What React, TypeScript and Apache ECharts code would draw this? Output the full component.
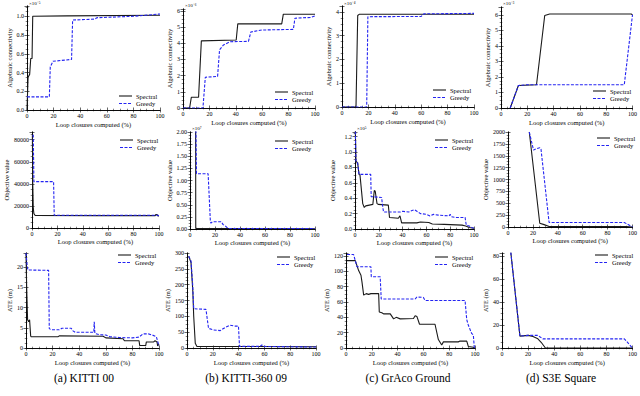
import React, { useEffect, useRef } from 'react';
import * as echarts from 'echarts';

// ---------- data (x = loop closures computed %, y = value) ----------
const xTickStep = 20;
const seriesNames = ['Spectral', 'Greedy'];
const captions = ['(a) KITTI 00', '(b) KITTI-360 09', '(c) GrAco Ground', '(d) S3E Square'];
const multipliers = ['×10⁻⁵', '×10⁻⁶', '×10⁻⁴', '×10⁻³', '', '×10⁷', '×10⁵', ''];

// Row 1: algebraic connectivity (in units of the multiplier)
const kittiConnSpectral = [[0, 0], [0.8, 0.35], [2, 0.38], [2.8, 0.55], [3.8, 0.55], [4.3, 1.0], [30, 1.005], [100, 1.012]];
const kittiConnGreedy = [[0, 0.14], [16.8, 0.14], [17.5, 0.46], [19.5, 0.52], [33.5, 0.54], [34.3, 0.96], [51, 0.97], [52.5, 0.985], [80, 1.0], [100, 1.025]];
const k360ConnSpectral = [[0, 0], [5, 0], [6.3, 0.66], [11.8, 0.66], [13.9, 4.15], [40.3, 4.2], [41.5, 5.2], [74.8, 5.2], [76, 5.8], [100, 5.8]];
const k360ConnGreedy = [[0, 0], [15.1, 0], [16.9, 1.9], [26.2, 1.95], [27.7, 3.6], [30.7, 3.9], [35.8, 4.1], [49.6, 4.12], [51.4, 4.7], [59.7, 4.82], [83.6, 4.86], [84.8, 5.55], [97, 5.6], [100, 5.7]];
const gracoConnSpectral = [[0, 0], [10.6, 0], [11.9, 3.85], [13, 3.9], [100, 3.9]];
const gracoConnGreedy = [[0, 0], [18.7, 0], [19.6, 3.8], [60, 3.81], [62, 3.92], [100, 3.94]];
const s3eConnSpectral = [[7, 0], [13.25, 1.45], [27, 1.5], [33.25, 5.95], [37, 6.05], [99, 6.05], [100, 6.0]];
const s3eConnGreedy = [[7, 0], [13.25, 1.45], [20, 1.5], [93.75, 1.5], [100, 6.0]];

// Row 2: objective value
const kittiObjSpectral = [[0.3, 84000], [0.6, 40000], [1, 18000], [1.5, 13000], [2.5, 11300], [50, 11200], [97, 11200], [97.5, 12200], [98.5, 12200], [99, 11000], [100, 11000]];
const kittiObjGreedy = [[0.3, 84000], [1, 84000], [1.5, 42000], [17, 42000], [17.5, 11500], [99.5, 11500], [100, 10000]];
const k360ObjSpectral = [[4.5, 2.5], [4.6, 0.01], [100, 0.005]];
const k360ObjGreedy = [[4.5, 2.5], [5.2, 1.14], [14.5, 1.14], [16.3, 0.15], [16.8, 0.12], [18, 0.15], [25, 0.15], [26.5, 0.09], [28, 0.07], [30, 0.02], [31, 0.01], [100, 0.01]];
const gracoObjSpectral = [[0, 1.5], [0.8, 0.88], [2.2, 0.86], [3.4, 0.71], [4.2, 0.7], [6.5, 0.33], [7.8, 0.28], [9, 0.3], [15, 0.32], [16.2, 0.5], [17, 0.49], [18.5, 0.33], [19.5, 0.32], [28, 0.31], [29, 0.15], [36.4, 0.14], [37.8, 0.17], [39.2, 0.08], [52, 0.08], [55, 0.09], [62, 0.085], [65, 0.065], [75, 0.06], [90, 0.05], [93, 0.04], [96, 0.02], [100, 0.01]];
const gracoObjGreedy = [[0, 1.5], [0.8, 0.88], [2.2, 0.86], [3.4, 0.71], [13.2, 0.71], [13.6, 0.42], [22.4, 0.41], [23, 0.32], [24, 0.22], [38, 0.22], [40, 0.23], [45, 0.22], [48, 0.24], [50, 0.25], [52, 0.23], [55, 0.2], [60, 0.19], [63, 0.17], [66, 0.19], [70, 0.18], [79, 0.17], [80, 0.19], [81, 0.16], [85, 0.15], [92.5, 0.15], [93.5, 0.05], [96, 0.04], [98, 0.02], [100, 0.01]];
const s3eObjSpectral = [[17.1, 2000], [25.5, 80], [29, 50], [33, 10], [95, 8], [100, 0]];
const s3eObjGreedy = [[17.1, 2000], [20.5, 1620], [23, 1650], [25.5, 1670], [26.5, 1640], [33, 95], [93.4, 95], [100, 0]];

// Row 3: ATE (m)
const kittiAteSpectral = [[0, 23.5], [0.5, 15], [1.2, 7], [2, 6.5], [2.7, 7], [3.5, 3], [3.8, 2.8], [24, 2.8], [25, 3.0], [58, 2.9], [60, 2.5], [73, 2.3], [74, 1.8], [85, 1.8], [85.5, 0.6], [90, 0.6], [90.5, 1.5], [96, 1.5], [97, 1.8], [98.5, 1.5], [99, 0.5], [100, 1.0]];
const kittiAteGreedy = [[0, 23.5], [1, 20], [1.5, 19.3], [17, 19.2], [17.5, 4.8], [19, 4.5], [25, 4.5], [27, 4.9], [34, 4.9], [35, 4.3], [37, 3.9], [51, 3.9], [51.3, 6.5], [51.8, 3.6], [55, 3.3], [60, 3.2], [63, 2.8], [70, 2.6], [80, 2.5], [85, 2.7], [88, 3.5], [92, 3.5], [95, 3.2], [98, 2.8], [100, 0.5]];
const k360AteSpectral = [[1.3, 290], [3.1, 270], [4.5, 180], [5.2, 100], [6.4, 15], [7.7, 5], [100, 4]];
const k360AteGreedy = [[1.3, 290], [3.1, 275], [4.4, 200], [5.2, 124], [14.7, 122], [16.7, 62], [20.6, 57], [25.8, 55], [29.6, 65], [33.5, 72], [37.4, 69], [39.9, 69], [40.7, 5], [56.7, 5], [58, 10], [59.5, 5], [100, 3]];
const gracoAteSpectral = [[0.8, 114], [7.2, 114], [9.8, 101], [11.6, 95], [12.4, 86], [13.7, 69], [15.7, 71], [17.5, 70], [19.3, 71], [25.3, 71], [25.8, 47], [27.8, 46], [29.1, 44.5], [34.3, 44.5], [36.9, 38], [38.9, 40], [42, 38], [52.3, 38.5], [53.6, 42], [55, 41], [57, 31], [69, 31], [71.6, 11], [74.2, 4], [75.5, 8], [87, 8], [88.4, 9], [93.6, 9], [94.8, 2], [98.7, 1], [100, 0]];
const gracoAteGreedy = [[0.8, 122], [5.9, 122], [8.5, 106], [19.3, 106], [19.6, 93], [26.5, 93], [27.3, 64], [53.6, 64], [55, 66.5], [60, 66], [61.3, 62], [92.3, 62], [93.6, 37], [94.8, 30], [97.4, 19], [98.7, 17], [99.5, 0]];
const s3eAteSpectral = [[6.75, 83.5], [13.75, 10.4], [20, 11], [23.75, 10], [27.5, 8], [30, 5], [33.25, 0], [100, 0]];
const s3eAteGreedy = [[6.75, 83.5], [13.75, 10.4], [20, 11], [27.5, 11], [31.25, 8], [93.75, 8], [100, 0]];

// y-axis tick setup per panel: [max, interval, decimals]
const yScales = [
  [1.11, 0.2, 1], [6.12, 1, 0], [4.25, 1, 0], [6.5, 1, 0],
  [87000, 20000, 0], [2.0, 0.25, 2], [1.26, 0.2, 1], [2000, 250, 0],
  [23.5, 5, 0], [300, 50, 0], [124, 20, 0], [83, 20, 0],
];
const yTitles = ['Algebraic connectivity', 'Objective value', 'ATE (m)'];

const panelData = [
  [kittiConnSpectral, kittiConnGreedy], [k360ConnSpectral, k360ConnGreedy], [gracoConnSpectral, gracoConnGreedy], [s3eConnSpectral, s3eConnGreedy],
  [kittiObjSpectral, kittiObjGreedy], [k360ObjSpectral, k360ObjGreedy], [gracoObjSpectral, gracoObjGreedy], [s3eObjSpectral, s3eObjGreedy],
  [kittiAteSpectral, kittiAteGreedy], [k360AteSpectral, k360AteGreedy], [gracoAteSpectral, gracoAteGreedy], [s3eAteSpectral, s3eAteGreedy],
];

// ---------- layout ----------
// [left, top, width, height, yNameGap, legendLeft, legendFirstRowCenterY]
const layout = [
  [27, 6, 133, 104, 13.5, 119, 96], [183, 9, 132, 99, 6.5, 275, 92], [342, 6, 132, 101, 6.5, 433, 90], [501, 7, 133, 101, 7.5, 593, 91],
  [32, 132, 127, 96, 17.5, 120, 140], [190, 132, 125, 97, 14.5, 275, 141], [355, 132, 119, 97, 19.5, 435, 140], [508, 132, 127, 95, 16.5, 597, 138],
  [26, 253, 133, 95, 11.5, 118, 255], [187, 253, 129, 95, 12.5, 277, 257], [346, 253, 129, 95, 12.5, 435, 257], [502, 253, 133, 95, 8.5, 595, 255],
];
const xNameGaps = [11, 10, 11];
const captionCenters = [84, 246, 408, 561];

const FONT = "'Liberation Serif', 'Times New Roman', serif";
const BLACK = '#1a1a1a';
const BLUE = '#2424f2';
const DASH = [3, 1.5];

function makeFormatter(interval: number, dec: number) {
  return (v: number) => {
    const r = v / interval;
    return Math.abs(r - Math.round(r)) < 1e-6 ? v.toFixed(dec) : '';
  };
}

function buildOption() {
  const grid: any[] = [];
  const xAxis: any[] = [];
  const yAxis: any[] = [];
  const series: any[] = [];
  const graphic: any[] = [];

  const tick = { show: true, inside: true, length: 2.5, lineStyle: { color: '#000', width: 0.6 } };
  const minor = { show: true, splitNumber: 4, length: 1.3, lineStyle: { color: '#000', width: 0.5 } };
  const line = { show: true, lineStyle: { color: '#000', width: 0.8 } };

  layout.forEach((L, i) => {
    const [left, top, width, height, yGap, lgLeft, lgY] = L;
    const row = Math.floor(i / 4);
    const [ymax, yint, ydec] = yScales[i];
    grid.push({ left, top, width, height, containLabel: false });
    const xBase = {
      gridIndex: i, type: 'value', min: 0, max: 100, interval: xTickStep,
      axisLine: line, axisTick: tick, minorTick: minor, splitLine: { show: false },
    };
    xAxis.push({
      ...xBase, position: 'bottom',
      axisLabel: { fontFamily: FONT, fontSize: 6, color: '#000', margin: 3 },
      name: 'Loop closures computed (%)', nameLocation: 'middle', nameGap: xNameGaps[row],
      nameTextStyle: { fontFamily: FONT, fontSize: 6.5, color: '#000' },
    });
    xAxis.push({ ...xBase, position: 'top', axisLabel: { show: false } });
    const yBase = {
      gridIndex: i, type: 'value', min: 0, max: ymax, interval: yint,
      axisLine: line, axisTick: tick, minorTick: minor, splitLine: { show: false },
    };
    yAxis.push({
      ...yBase, position: 'left',
      axisLabel: { fontFamily: FONT, fontSize: 6, color: '#000', margin: 3, formatter: makeFormatter(yint, ydec) },
      name: yTitles[row], nameLocation: 'middle', nameGap: yGap, nameRotate: 90,
      nameTextStyle: { fontFamily: FONT, fontSize: 6.5, color: '#000' },
    });
    yAxis.push({ ...yBase, position: 'right', axisLabel: { show: false } });

    const [spec, greedy] = panelData[i];
    series.push({
      name: seriesNames[0], type: 'line', xAxisIndex: 2 * i, yAxisIndex: 2 * i,
      data: spec, symbol: 'none', clip: true,
      lineStyle: { color: BLACK, width: 1.1 }, itemStyle: { color: BLACK },
    });
    series.push({
      name: seriesNames[1], type: 'line', xAxisIndex: 2 * i, yAxisIndex: 2 * i,
      data: greedy, symbol: 'none', clip: true,
      lineStyle: { color: BLUE, width: 1.1, type: DASH }, itemStyle: { color: BLUE },
    });

    // legend (key lines + labels)
    [0, 1].forEach((k) => {
      const y = lgY + k * 7.5;
      graphic.push({
        type: 'line', shape: { x1: lgLeft, y1: y, x2: lgLeft + 13, y2: y },
        style: { stroke: k === 0 ? BLACK : BLUE, lineWidth: 1.1, lineDash: k === 0 ? null : DASH },
      });
      graphic.push({
        type: 'text', x: lgLeft + 17, y,
        style: { text: seriesNames[k], font: `6.5px ${FONT}`, fill: '#000', verticalAlign: 'middle', textVerticalAlign: 'middle' },
      });
    });

    const mult = multipliers[i];
    if (mult) {
      graphic.push({
        type: 'text', x: left + 2, y: Math.max(0.5, top - 6.5),
        style: { text: mult, font: `5px ${FONT}`, fill: '#000' },
      });
    }
  });

  captions.forEach((c, k) => {
    graphic.push({
      type: 'text', x: captionCenters[k], y: 378,
      style: { text: c, font: `11.5px ${FONT}`, fill: '#000', align: 'center', verticalAlign: 'middle', textAlign: 'center', textVerticalAlign: 'middle' },
    });
  });

  return {
    animation: false,
    backgroundColor: '#fff',
    grid, xAxis, yAxis, series, graphic,
  };
}

export default function App() {
  const ref = useRef<HTMLDivElement>(null);
  useEffect(() => {
    document.body.style.margin = '0';
    const chart = echarts.init(ref.current!, null, { renderer: 'svg' });
    chart.setOption(buildOption() as any);
    return () => chart.dispose();
  }, []);
  return <div ref={ref} style={{ width: 640, height: 396, position: 'fixed', left: 0, top: 0 }} />;
}
